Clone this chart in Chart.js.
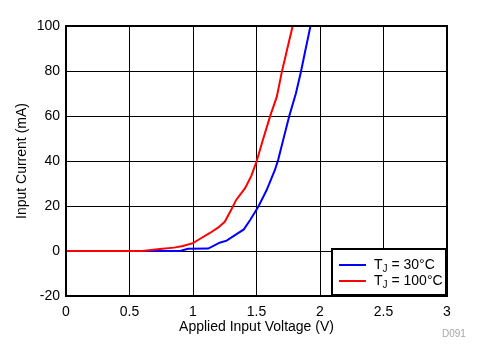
<!DOCTYPE html>
<html>
<head>
<meta charset="utf-8">
<script src="https://cdn.jsdelivr.net/npm/chart.js@4"></script>
<style>
  html, body { margin: 0; padding: 0; background: #fff; }
  #wrap { position: relative; width: 483px; height: 362px; }
  #legend {
    position: absolute; left: 331px; top: 248px; width: 112px; height: 44px;
    border: 2px solid #000; background: #fff;
    font-family: "Liberation Sans", Arial, sans-serif; font-size: 14px; color: #000;
  }
  .row { position: absolute; left: 6px; height: 16px; line-height: 16px; white-space: nowrap; }
  .swatch { display: inline-block; width: 27px; height: 2px; vertical-align: middle; margin-right: 8px; }
  sub { font-size: 10px; vertical-align: -3px; line-height: 0; }
  #code {
    position: absolute; left: 442px; top: 328px;
    font-family: "Liberation Sans", Arial, sans-serif; font-size: 10px; color: #a6a6a6;
  }
</style>
</head>
<body>
<div id="wrap">
  <canvas id="chart" width="483" height="362"></canvas>
  <div id="legend">
    <div class="row" style="top:6px"><span class="swatch" style="background:#0000ff"></span>T<sub>J</sub> = 30°C</div>
    <div class="row" style="top:22px"><span class="swatch" style="background:#ff0000"></span>T<sub>J</sub> = 100°C</div>
  </div>
  <div id="code">D091</div>
</div>
<script>
// Applied voltage (V) vs input current (mA)
const voltage30 = [0, 0.9, 0.96, 1.12, 1.21, 1.265, 1.40, 1.45, 1.514, 1.58, 1.645, 1.67, 1.71, 1.76, 1.81, 1.85, 1.88, 1.925];
const current30 = [0, 0, 1.0, 1.1, 3.7, 4.6, 9.6, 13.8, 19.7, 27.1, 36, 40.4, 49.3, 60.4, 70, 79.7, 87.9, 100];

const voltage100 = [0, 0.6, 0.74, 0.85, 0.92, 1.0, 1.04, 1.13, 1.2, 1.25, 1.30, 1.34, 1.41, 1.46, 1.50, 1.55, 1.61, 1.66, 1.70, 1.74, 1.785];
const current100 = [0, 0, 0.9, 1.5, 2.2, 3.5, 4.9, 7.9, 10.5, 13, 18.2, 22.7, 27.9, 33.5, 39.7, 49.3, 60.4, 68.6, 79.7, 89.3, 100];

const xTicks = [0, 0.5, 1, 1.5, 2, 2.5, 3];
const yTicks = [-20, 0, 20, 40, 60, 80, 100];

const FONT = '"Liberation Sans", Arial, sans-serif';

function toPoints(xs, ys) {
    return xs.map((x, i) => ({ x: x, y: ys[i] }));
}

// thick frame round the plot area
const frame = {
    id: 'frame',
    afterDraw(chart) {
        const { ctx, chartArea: a } = chart;
        ctx.save();
        ctx.strokeStyle = '#000';
        ctx.lineWidth = 2;
        ctx.strokeRect(a.left, a.top, a.right - a.left, a.bottom - a.top);
        ctx.restore();
    }
};

new Chart(document.getElementById('chart'), {
    type: 'line',
    data: {
        datasets: [
            {
                label: 'TJ = 100°C',
                data: toPoints(voltage100, current100),
                borderColor: '#ff0000',
                borderWidth: 2,
                pointRadius: 0,
                tension: 0,
                fill: false
            },
            {
                label: 'TJ = 30°C',
                data: toPoints(voltage30, current30),
                borderColor: '#0000ff',
                borderWidth: 2,
                pointRadius: 0,
                tension: 0,
                fill: false
            }
        ]
    },
    options: {
        responsive: false,
        animation: false,
        layout: { padding: { left: 0, top: 26, right: 36, bottom: 0 } },
        plugins: {
            legend: { display: false },
            tooltip: { enabled: false }
        },
        scales: {
            x: {
                type: 'linear',
                min: 0,
                max: 3,
                afterFit: (s) => { s.height = 66; },
                afterBuildTicks: (s) => { s.ticks = xTicks.map(v => ({ value: v })); },
                grid: { color: '#000', lineWidth: 1, drawTicks: false },
                border: { display: false },
                ticks: {
                    padding: 8,
                    color: '#000',
                    font: { family: FONT, size: 14 },
                    callback: (v) => String(v)
                },
                title: {
                    display: true,
                    text: 'Applied Input Voltage (V)',
                    color: '#000',
                    font: { family: FONT, size: 14 },
                    padding: { top: 0, bottom: 26 }
                }
            },
            y: {
                type: 'linear',
                min: -20,
                max: 100,
                afterFit: (s) => { s.width = 66; },
                afterBuildTicks: (s) => { s.ticks = yTicks.map(v => ({ value: v })); },
                grid: { color: '#000', lineWidth: 1, drawTicks: false },
                border: { display: false },
                ticks: {
                    padding: 6,
                    color: '#000',
                    font: { family: FONT, size: 14 },
                    callback: (v) => String(v)
                },
                title: {
                    display: true,
                    text: 'Input Current (mA)',
                    color: '#000',
                    font: { family: FONT, size: 14 },
                    padding: { top: 14, bottom: 0 }
                }
            }
        }
    },
    plugins: [frame]
});
</script>
</body>
</html>
